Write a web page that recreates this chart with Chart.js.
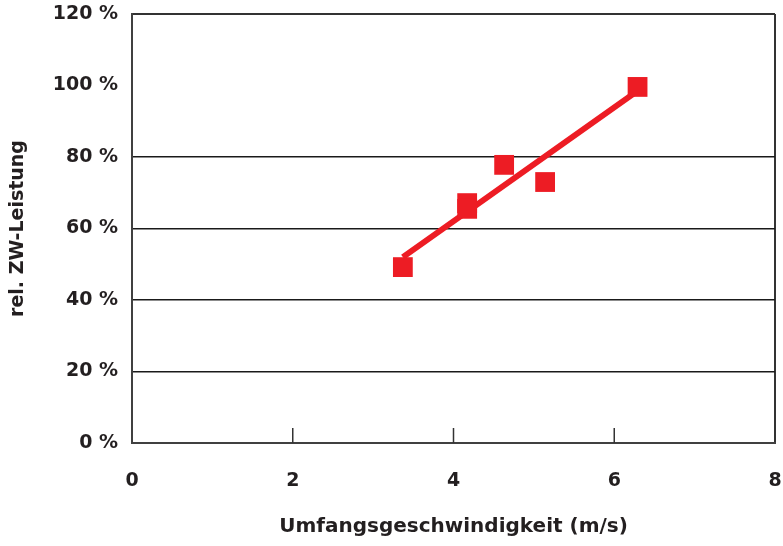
<!DOCTYPE html>
<html>
<head>
<meta charset="utf-8">
<script src="https://cdn.jsdelivr.net/npm/chart.js@4/dist/chart.umd.min.js"></script>
<style>
  html, body { margin: 0; padding: 0; background: #fff; overflow: hidden; }
  canvas { display: block; }
</style>
</head>
<body>
<canvas id="chart" width="789" height="546"></canvas>
<script>
// measured points: circumferential speed (m/s) vs relative power (%)
const speedValues = [3.37, 4.17, 4.17, 4.63, 5.14, 6.29];
const powerValues = [49.2, 67.1, 65.5, 77.8, 73.0, 99.6];
// trend line end points
const trendSpeed = [3.37, 6.29];
const trendPower = [52.0, 98.5];
const xTickMarks = [2, 4, 6];

const red = '#ed1c24';
const ink = '#231f20';
const font = { family: 'DejaVu Sans, Liberation Sans, Arial, sans-serif', size: 19, weight: 'bold' };
const titleFont = { family: 'DejaVu Sans, Liberation Sans, Arial, sans-serif', size: 20, weight: 'bold' };

// short tick marks that point inward from the bottom axis
const innerTicks = {
    id: 'innerTicks',
    afterDatasetsDraw(chart) {
        const ctx = chart.ctx;
        const x = chart.scales.x;
        const bottom = chart.chartArea.bottom;
        ctx.save();
        ctx.strokeStyle = '#333';
        ctx.lineWidth = 1.5;
        xTickMarks.forEach(v => {
            const px = x.getPixelForValue(v);
            ctx.beginPath();
            ctx.moveTo(px, bottom);
            ctx.lineTo(px, bottom - 15);
            ctx.stroke();
        });
        ctx.restore();
    }
};

const tickVal = c => (c.tick ? Math.round(c.tick.value) : -1);

new Chart(document.getElementById('chart'), {
    type: 'scatter',
    data: {
        datasets: [
            {
                label: 'Messwerte',
                data: speedValues.map((v, i) => ({ x: v, y: powerValues[i] })),
                pointStyle: 'rect',
                pointRadius: 14,
                pointHoverRadius: 14,
                backgroundColor: red,
                borderWidth: 0,
                order: 1,
            },
            {
                label: 'Trend',
                type: 'line',
                data: trendSpeed.map((v, i) => ({ x: v, y: trendPower[i] })),
                borderColor: red,
                borderWidth: 6,
                pointRadius: 0,
                fill: false,
                order: 2,
            },
        ],
    },
    options: {
        responsive: false,
        animation: false,
        devicePixelRatio: 1,
        layout: { padding: { left: 0, right: 8, top: 14, bottom: 0 } },
        plugins: {
            legend: { display: false },
            tooltip: { enabled: false },
        },
        scales: {
            x: {
                type: 'linear',
                min: 0,
                max: 8,
                ticks: { stepSize: 2, color: ink, font: font, padding: 27 },
                grid: {
                    drawTicks: false,
                    color: c => (tickVal(c) === 8 ? '#333' : 'rgba(0,0,0,0)'),
                    lineWidth: 2,
                },
                border: { display: true, color: '#404040', width: 2 },
                title: {
                    display: true,
                    text: 'Umfangsgeschwindigkeit (m/s)',
                    color: ink,
                    font: titleFont,
                    padding: { top: 0, bottom: 7 },
                },
                afterFit: scale => {
                    scale.height = 103;
                    scale.paddingLeft = 0;
                    scale.paddingRight = 0;
                },
            },
            y: {
                min: 0,
                max: 120,
                ticks: {
                    stepSize: 20,
                    color: ink,
                    font: font,
                    padding: 14,
                    callback: v => v + ' %',
                },
                grid: {
                    drawTicks: false,
                    color: c => {
                        const v = tickVal(c);
                        if (v === 0 || v === 100) return 'rgba(0,0,0,0)';
                        return v === 120 ? '#333' : '#1a1a1a';
                    },
                    lineWidth: c => (tickVal(c) === 120 ? 2 : 1.5),
                },
                border: { display: true, color: '#404040', width: 2 },
                title: {
                    display: true,
                    text: 'rel. ZW-Leistung',
                    color: ink,
                    font: font,
                    padding: { top: 7, bottom: 0 },
                },
                afterFit: scale => {
                    scale.width = 132;
                    scale.paddingTop = 0;
                    scale.paddingBottom = 0;
                },
            },
        },
    },
    plugins: [innerTicks],
});
</script>
</body>
</html>
